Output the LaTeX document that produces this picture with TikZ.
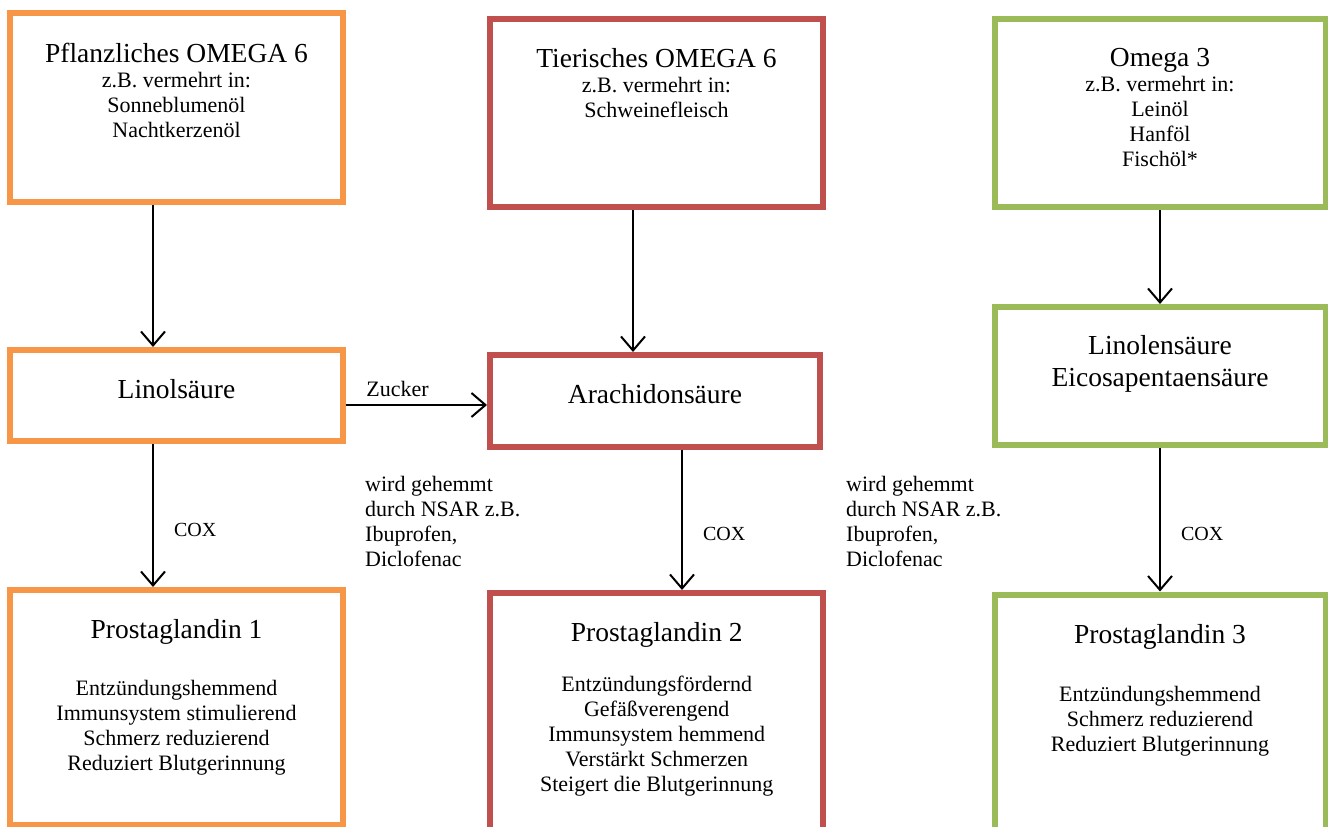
\documentclass[tikz,border=0pt]{standalone}
\usepackage{fontspec}
\setmainfont{Liberation Serif}
\usetikzlibrary{arrows.meta,positioning}

\definecolor{omorange}{HTML}{F79646}
\definecolor{omred}{HTML}{C0504D}
\definecolor{omgreen}{HTML}{9BBB59}
\newcommand{\ttlfont}{\fontsize{27.5}{32}\selectfont}

\begin{document}
\begin{tikzpicture}[x=1pt,y=-1pt,
	box/.style={draw, line width=6pt, inner sep=0pt, minimum width=333pt},
	boxtxt/.style={anchor=north, inner sep=0pt, align=center, font=\fontsize{22}{25}\selectfont},
	hint/.style={anchor=north west, inner sep=0pt, align=left, font=\fontsize{22}{25}\selectfont},
	pfeil/.style={line width=2pt, -{Straight Barb[length=14pt,width=24pt]}},
	cox/.style={pos=0.6, anchor=west, xshift=17pt, inner sep=3pt, font=\fontsize{20}{24}\selectfont}]
	
		\clip (0,0) rectangle (1328,827);
		
		% linke Spalte
		\node[box, draw=omorange, minimum height=189pt] (pfl) at (176.5,107.5) {};
		\node[boxtxt, below=32.5pt of pfl.north] (pfltxt) {{\ttlfont Pflanzliches OMEGA 6}\\ z.B. vermehrt in:\\ Sonneblumenöl\\ Nachtkerzenöl};
		
		\node[box, draw=omorange, minimum height=91pt] (lin) at (176.5,395.5) {};
		\node[boxtxt, font=\ttlfont, below=32.5pt of lin.north] (lintxt) {Linolsäure};
		
		\node[box, draw=omorange, minimum height=234.5pt] (pg1) at (176.5,707.25) {};
		\node[boxtxt, below=32.5pt of pg1.north] (pg1txt) {{\ttlfont Prostaglandin 1}\\[32pt] Entzündungshemmend\\ Immunsystem stimulierend\\ Schmerz reduzierend\\ Reduziert Blutgerinnung};
		
		% mittlere Spalte
		\node[box, draw=omred, minimum height=188.5pt] (tie) at (656.5,112.75) {};
		\node[boxtxt, below=32.5pt of tie.north] (tietxt) {{\ttlfont Tierisches OMEGA 6}\\ z.B. vermehrt in:\\ Schweinefleisch};
		
		\node[box, draw=omred, minimum width=330pt, minimum height=92pt] (ara) at (655,401) {};
		\node[boxtxt, font=\ttlfont, below=32.5pt of ara.north] (aratxt) {Arachidonsäure};
		
		\node[box, draw=omred, minimum height=267pt] (pg2) at (656.75,726.5) {};
		\node[boxtxt, below=32.5pt of pg2.north] (pg2txt) {{\ttlfont Prostaglandin 2}\\[25pt] Entzündungsfördernd\\ Gefäßverengend\\ Immunsystem hemmend\\ Verstärkt Schmerzen\\ Steigert die Blutgerinnung};
		
		% rechte Spalte
		\node[box, draw=omgreen, minimum width=331pt, minimum height=188.5pt] (oma) at (1160,112.75) {};
		\node[boxtxt, below=32.5pt of oma.north] (omatxt) {{\ttlfont Omega 3}\\ z.B. vermehrt in:\\ Leinöl\\ Hanföl\\ Fischöl*};
		
		\node[box, draw=omgreen, minimum width=331pt, minimum height=137.5pt] (lnl) at (1160,375.75) {};
		\node[boxtxt, font=\ttlfont, below=31.5pt of lnl.north] (lnltxt) {Linolensäure\\ Eicosapentaensäure};
		
		\node[box, draw=omgreen, minimum width=331pt, minimum height=265.5pt] (pg3) at (1160,727.25) {};
		\node[boxtxt, below=32.5pt of pg3.north] (pg3txt) {{\ttlfont Prostaglandin 3}\\[33pt] Entzündungshemmend\\ Schmerz reduzierend\\ Reduziert Blutgerinnung};
		
		% Hemmung
		\node[hint] (hemmA) at (365,476) {wird gehemmt\\ durch NSAR z.B.\\ Ibuprofen,\\ Diclofenac};
		\node[hint] (hemmB) at (846,476) {wird gehemmt\\ durch NSAR z.B.\\ Ibuprofen,\\ Diclofenac};
		
		% Pfeile
		\draw[pfeil] ([xshift=-23.5pt]pfl.south) -- ([xshift=-23.5pt]lin.north);
		\draw[pfeil] ([xshift=-23.5pt]lin.south) -- node[cox] {COX} ([xshift=-23.5pt]pg1.north);
		\draw[pfeil] ([yshift=-9.5pt]lin.east) -- node[pos=0, anchor=base west, xshift=16pt, yshift=9pt, font=\fontsize{22}{25}\selectfont] (zucker) {Zucker} ([yshift=-9.5pt]lin.east -| ara.west);
		
		\draw[pfeil] ([xshift=-23.5pt]tie.south) -- ([xshift=-23.5pt]tie.south |- ara.north);
		\draw[pfeil] ([xshift=27pt]ara.south) -- node[cox] {COX} ([xshift=27pt]ara.south |- pg2.north);
		
		\draw[pfeil] (oma.south) -- (lnl.north);
		\draw[pfeil] (lnl.south) -- node[cox] {COX} (pg3.north);
		
\end{tikzpicture}
\end{document}
